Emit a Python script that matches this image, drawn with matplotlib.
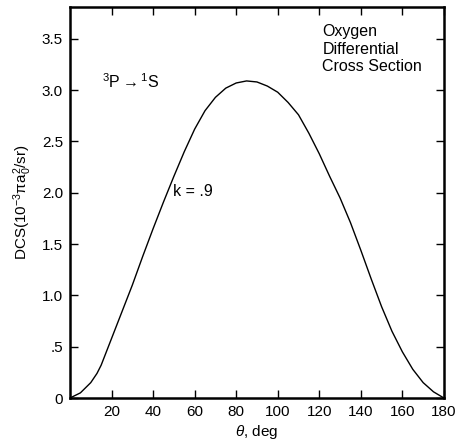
import numpy as np
import matplotlib
matplotlib.use("Agg")
import matplotlib.pyplot as plt

plt.rcParams['font.family'] = ['Liberation Sans', 'DejaVu Sans']
plt.rcParams['mathtext.fontset'] = 'custom'
plt.rcParams['mathtext.rm'] = 'Liberation Sans'
plt.rcParams['mathtext.it'] = 'Liberation Sans:italic'

# --- data ---
theta = [0, 5, 10, 13, 15, 20, 25, 30, 35, 40, 45, 50, 55, 60, 65, 70, 75, 80,
         85, 90, 95, 100, 105, 110, 115, 120, 125, 130, 135, 140, 145, 150,
         155, 160, 165, 170, 175, 180]
dcs = [0.0, 0.05, 0.15, 0.24, 0.32, 0.58, 0.84, 1.10, 1.38, 1.65, 1.91, 2.16,
       2.40, 2.62, 2.80, 2.93, 3.02, 3.07, 3.09, 3.08, 3.04, 2.98, 2.88, 2.76,
       2.58, 2.38, 2.16, 1.95, 1.71, 1.44, 1.16, 0.89, 0.65, 0.45, 0.28, 0.15,
       0.06, 0.0]

xticks = [20, 40, 60, 80, 100, 120, 140, 160, 180]
yticks = [0, 0.5, 1.0, 1.5, 2.0, 2.5, 3.0, 3.5]
ylabels = ['0', '.5', '1.0', '1.5', '2.0', '2.5', '3.0', '3.5']

fig = plt.figure(figsize=(4.56, 4.41), dpi=100)
ax = fig.add_axes([0.1535, 0.0975, 0.82, 0.8865])

ax.plot(theta, dcs, color='black', lw=1.0)

ax.set_xlim(0, 180)
ax.set_ylim(0, 3.81)
ax.set_xticks(xticks)
ax.set_yticks(yticks)
ax.set_yticklabels(ylabels)
ax.tick_params(direction='in', top=True, right=True, length=6, width=1,
               labelsize=11, pad=5)
for s in ax.spines.values():
    s.set_linewidth(1.8)

ax.set_xlabel(r'$\theta$, deg', fontsize=11, labelpad=3)
ax.set_ylabel(r'DCS(10$^{-3}$πa$_0^2$/sr)', fontsize=11, labelpad=6)

ax.text(15.5, 3.08, r'$^3$P$\rightarrow$$^1$S', fontsize=11.5, va='center')
ax.text(49.5, 2.01, 'k = .9', fontsize=11.5, va='center')
ax.text(121.5, 3.64, 'Oxygen\nDifferential\nCross Section', fontsize=11.5,
        va='top', linespacing=1.2)

fig.savefig('out.png', dpi=100)
